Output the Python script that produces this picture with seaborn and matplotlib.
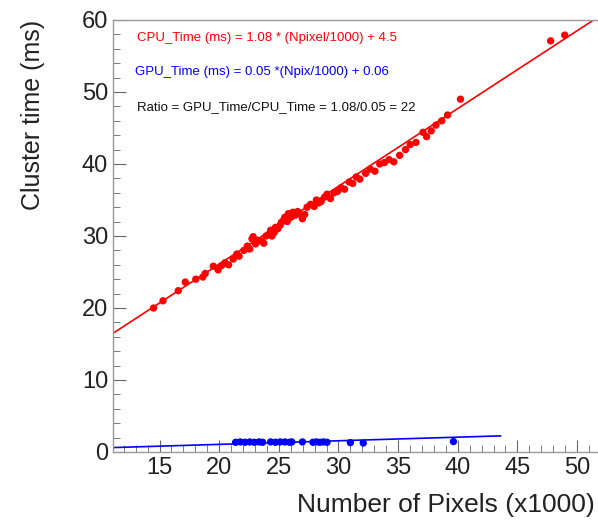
import numpy as np
import pandas as pd
import matplotlib
matplotlib.use("Agg")
import matplotlib.pyplot as plt
import seaborn as sns
from matplotlib.ticker import MultipleLocator

# ============================
# DATA
# ============================
cpu_x = [14.50, 15.29, 16.57, 17.16, 18.04, 18.63, 18.83, 19.51, 19.91, 20.20,
         20.49, 20.79, 21.18, 21.48, 21.67, 22.07, 22.36, 22.56, 22.75, 22.85,
         23.05, 23.24, 23.54, 23.74, 23.93, 24.13, 24.32, 24.42, 24.62, 24.72,
         24.91, 25.11, 25.21, 25.40, 25.50, 25.70, 25.80, 25.90, 26.09, 26.19,
         26.39, 26.58, 26.78, 26.98, 27.17, 27.37, 27.66, 27.96, 28.15, 28.35,
         28.55, 28.84, 29.04, 29.33, 29.63, 29.92, 30.22, 30.51, 30.90, 31.20,
         31.49, 31.79, 32.28, 32.67, 33.06, 33.46, 33.85, 34.24, 34.64, 35.13,
         35.62, 36.01, 36.50, 37.09, 37.39, 37.78, 38.17, 38.66, 39.15, 40.23,
         47.79, 48.97]
cpu_y = [20.0, 21.0, 22.4, 23.6, 24.0, 24.3, 24.8, 25.8, 25.3, 25.9, 26.3, 26.0,
         26.8, 27.5, 27.2, 28.0, 28.6, 28.2, 29.6, 29.9, 28.9, 29.4, 29.3, 29.0,
         30.0, 30.2, 30.8, 30.0, 30.5, 31.2, 31.0, 31.5, 31.9, 32.2, 32.6, 32.0,
         33.1, 32.5, 32.7, 33.3, 32.9, 33.4, 33.0, 32.4, 33.0, 34.0, 34.4, 34.1,
         35.0, 34.6, 34.8, 35.4, 35.8, 35.2, 36.0, 36.2, 36.7, 36.5, 37.5, 37.3,
         38.2, 37.9, 38.7, 39.3, 39.0, 40.0, 40.2, 40.6, 40.3, 41.2, 42.0, 42.7,
         43.0, 44.4, 43.8, 44.6, 45.4, 46.0, 46.8, 49.0, 57.1, 57.9]

gpu_x = [21.38, 21.77, 22.16, 22.56, 22.95, 23.34, 23.64, 24.32, 24.72, 25.11,
         25.50, 25.90, 26.09, 26.98, 27.86, 28.15, 28.45, 28.74, 29.04, 31.00,
         32.08, 39.64]
gpu_y = [1.35, 1.4, 1.35, 1.4, 1.35, 1.4, 1.35, 1.4, 1.35, 1.4, 1.4, 1.35,
         1.4, 1.4, 1.35, 1.4, 1.35, 1.4, 1.35, 1.3, 1.25, 1.45]

# fit results
cpu_slope, cpu_icpt = 1.08, 4.5
gpu_slope, gpu_icpt = 0.05, 0.06
cpu_fit_range = [11.1, 52.0]
gpu_fit_range = [11.1, 43.6]

x_limits = (11.1, 51.76)
y_limits = (0, 60)

fit_texts = ["CPU_Time (ms) = 1.08 * (Npixel/1000) + 4.5",
             "GPU_Time (ms) = 0.05 *(Npix/1000) + 0.06",
             "Ratio = GPU_Time/CPU_Time = 1.08/0.05 = 22"]

# ============================
# PLOT
# ============================
sns.set_style("ticks")
plt.rcParams["font.family"] = ["Liberation Sans", "DejaVu Sans"]

fig = plt.figure(figsize=(5.98, 5.22), dpi=100)
ax = fig.add_axes([113 / 598, 70 / 522, 485 / 598, 432 / 522])

cpu_df = pd.DataFrame({"x": cpu_x, "y": cpu_y})
gpu_df = pd.DataFrame({"x": gpu_x, "y": gpu_y})

fx = np.array(cpu_fit_range)
cpu_line = pd.DataFrame({"x": fx, "y": cpu_slope * fx + cpu_icpt})
gx = np.array(gpu_fit_range)
gpu_line = pd.DataFrame({"x": gx, "y": gpu_slope * gx + gpu_icpt})

sns.lineplot(data=cpu_line, x="x", y="y", color="#ff0000", lw=1.2, ax=ax)
sns.lineplot(data=gpu_line, x="x", y="y", color="#0000ff", lw=1.2, ax=ax)
sns.scatterplot(data=cpu_df, x="x", y="y", color="#ff0000", s=28,
                edgecolor="none", ax=ax, zorder=3)
sns.scatterplot(data=gpu_df, x="x", y="y", color="#0000ff", s=28,
                edgecolor="none", ax=ax, zorder=3)

ax.set_xlim(*x_limits)
ax.set_ylim(*y_limits)

ax.xaxis.set_major_locator(MultipleLocator(5))
ax.xaxis.set_minor_locator(MultipleLocator(1))
ax.yaxis.set_major_locator(MultipleLocator(10))
ax.yaxis.set_minor_locator(MultipleLocator(2))
ax.tick_params(which="both", direction="in", color="#666666", labelsize=17,
               labelcolor="#222222")
ax.tick_params(which="major", length=9)
ax.tick_params(which="minor", length=5)
for sp in ax.spines.values():
    sp.set_color("#999999")
    sp.set_linewidth(1.0)
ax.spines["right"].set_visible(False)

ax.set_xlabel("Number of Pixels (x1000)", fontsize=19, color="#222222",
              ha="right", va="center")
ax.xaxis.set_label_coords(0.994, -0.123)
ax.set_ylabel("Cluster time (ms)", fontsize=18, color="#222222")
ax.yaxis.set_label_coords(-0.165, 1.0)
ax.yaxis.label.set_verticalalignment("center")
ax.yaxis.label.set_horizontalalignment("right")

ax.text(0.049, 0.958, fit_texts[0], transform=ax.transAxes, color="#ff0000",
        fontsize=9.5, va="center")
ax.text(0.045, 0.880, fit_texts[1], transform=ax.transAxes, color="#0000ff",
        fontsize=9.5, va="center")
ax.text(0.049, 0.799, fit_texts[2], transform=ax.transAxes, color="#111111",
        fontsize=9.5, va="center")

fig.savefig("out.png", dpi=100)
